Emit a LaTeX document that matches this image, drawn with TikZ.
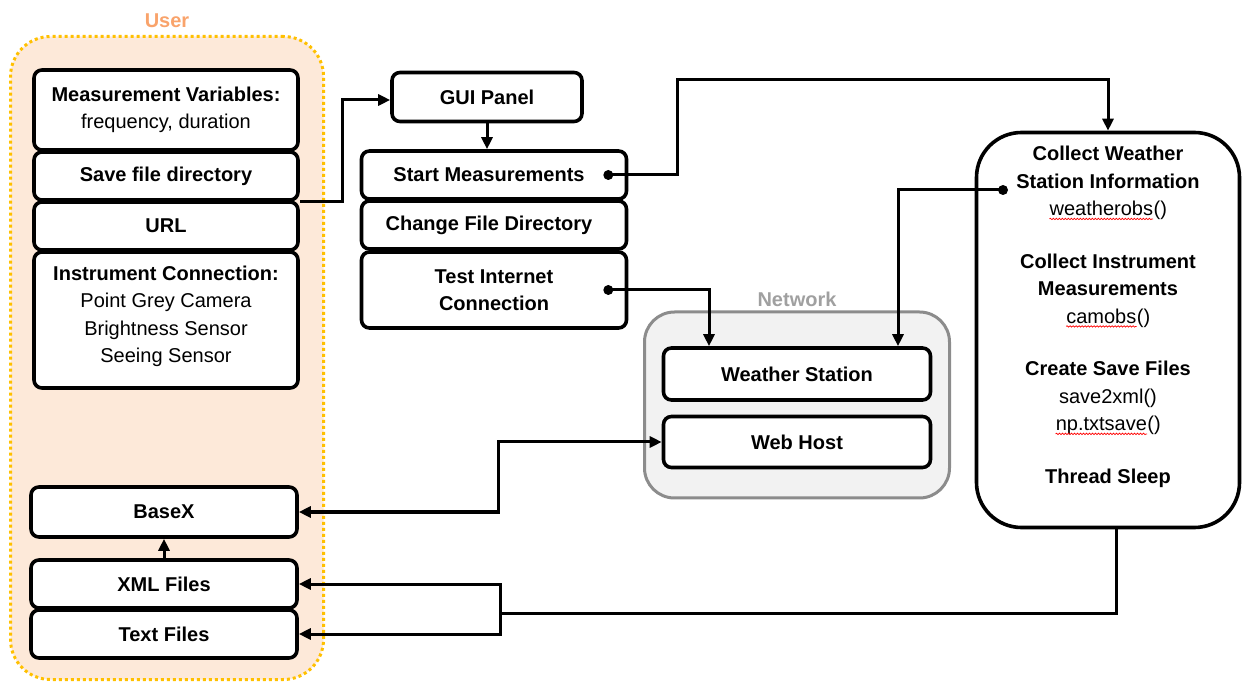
\documentclass[tikz,border=0pt]{standalone}
\usepackage{fontspec}
\setmainfont{Liberation Sans}
\usetikzlibrary{arrows.meta, positioning, calc, decorations.pathmorphing}
\definecolor{userfill}{RGB}{253,233,217}
\definecolor{userline}{RGB}{255,192,0}
\definecolor{userlabel}{RGB}{249,163,107}
\definecolor{netfill}{RGB}{242,242,242}
\definecolor{netline}{RGB}{140,140,140}
\definecolor{netlabel}{RGB}{160,160,160}
\newcommand\diafont{\fontsize{20}{27.5}\selectfont}
% red spell-check wave under a word
\newcommand\spellerr[1]{\tikz[baseline=(w.base)]{\node[inner sep=0pt] (w) {#1};
  \draw[red, line width=0.7pt, decorate, decoration={snake, amplitude=0.7pt, segment length=3pt}]
    ([yshift=-3pt]w.base west) -- ([yshift=-3pt]w.base east);}}

\tikzset{
  box/.style={draw, line width=3.6pt, rounded corners=8pt, fill=white, align=center,
    inner sep=0pt, font=\diafont\bfseries},
  grouplbl/.style={font=\diafont\bfseries, inner sep=1pt},
  link/.style={line width=3pt, ->},
  wire/.style={line width=3pt},
}

\begin{document}
\begin{tikzpicture}[x=1pt, y=-1pt, >={Triangle[length=12pt,width=11pt]}]
    \useasboundingbox (0,0) rectangle (1243,684);

    % groups
    \node[draw=userline, fill=userfill, line width=3pt, dash pattern=on 3pt off 3pt,
      rounded corners=40pt, minimum width=313pt, minimum height=643pt] (user) at (167,358) {};
    \node[grouplbl, text=userlabel, above=6pt of user] (userlbl) {User};
    \node[draw=netline, fill=netfill, line width=3pt, rounded corners=30pt,
      minimum width=305pt, minimum height=186pt] (network) at (797,405) {};
    \node[grouplbl, text=netlabel, above=3pt of network] (netlbl) {Network};

    % user side
    \node[box, minimum width=264pt, minimum height=80pt] (mvar) at (166,110)
      {Measurement Variables:\\{\mdseries frequency, duration}};
    \node[box, minimum width=264pt, minimum height=48pt] (savedir) at (166,176) {Save file directory};
    \node[box, minimum width=264pt, minimum height=48pt] (url) at (166,226) {URL};
    \node[box, minimum width=264pt, minimum height=136pt] (instr) at (166,320)
      {Instrument Connection:\\{\mdseries Point Grey Camera}\\{\mdseries Brightness Sensor}\\{\mdseries Seeing Sensor}\\[-16pt]};
    \node[box, minimum width=266pt, minimum height=50pt] (basex) at (164,512) {BaseX};
    \node[box, minimum width=266pt, minimum height=48pt] (xml) at (164,584) {XML Files};
    \node[box, minimum width=266pt, minimum height=48pt] (txt) at (164,634) {Text Files};

    % gui
    \node[box, minimum width=190pt, minimum height=49pt] (gui) at (487,97) {GUI Panel};
    \node[box, minimum width=265pt, minimum height=48pt] (startm) at (494,175) {Start Measurements\hspace*{10pt}};
    \node[box, minimum width=265pt, minimum height=48pt] (chdir) at (494,225) {Change File Directory\hspace*{10pt}};
    \node[box, minimum width=265pt, minimum height=76pt] (testnet) at (494,290) {Test Internet\\Connection};

    % network
    \node[box, minimum width=267pt, minimum height=52pt] (wstation) at (797,374) {Weather Station};
    \node[box, minimum width=267pt, minimum height=51pt] (webhost) at (797,442) {Web Host};

    % loop
    \node[draw, line width=3.6pt, rounded corners=45pt, fill=white,
      minimum width=263pt, minimum height=395pt] (collect) at (1108,330) {};
    \node[align=center, font=\diafont, inner sep=0pt] (tasks) at ([yshift=13pt]collect.center)
      {\textbf{Collect Weather}\\\textbf{Station Information}\\\spellerr{weatherobs}()\\[25pt]
       \textbf{Collect Instrument}\\\textbf{Measurements}\\\spellerr{camobs}()\\[25pt]
       \textbf{Create Save Files}\\save2xml()\\\spellerr{np.txtsave}()\\[25pt]
       \textbf{Thread Sleep}};

    % connectors
    \coordinate (sdot) at ([xshift=-20pt]startm.east);
    \coordinate (tdot) at ([xshift=-20pt]testnet.east);
    \coordinate (cdot) at (1003,190);
    \coordinate (rail) at (677,80);
    \coordinate (split) at (500,613);
    \draw[link] (savedir.south east) -- ++(43,0) |- ([yshift=-3pt]gui.west);
    \draw[link] (gui.south) -- (gui.south |- startm.north);
    \draw[link] (sdot) -| (rail) -| (collect.north);
    \draw[link] (tdot) -| ([xshift=-88pt]wstation.north);
    \draw[link] (cdot) -| ([xshift=101pt]wstation.north);
    \draw[link, <->] (basex.east) -- ++(200,0) |- (webhost.west);
    \draw[wire] ([xshift=8pt]collect.south) |- (split);
    \draw[link] (split) |- (xml.east);
    \draw[link] (split) |- (txt.east);
    \draw[link] (xml.north) -- (basex.south);
    \fill (sdot) circle (5pt);
    \fill (tdot) circle (5pt);
    \fill (cdot) circle (5pt);
\end{tikzpicture}
\end{document}
